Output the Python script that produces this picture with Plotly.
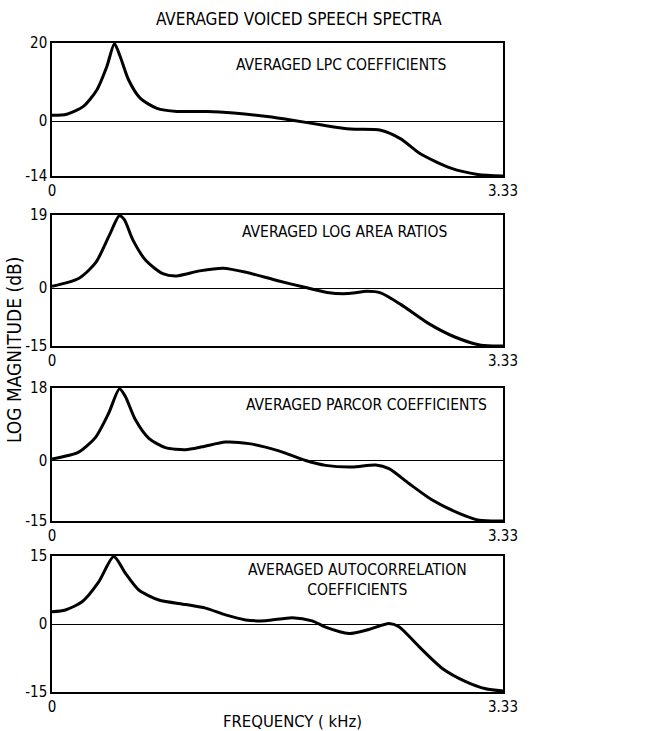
import plotly.graph_objects as go

# ---- data (frequency in kHz, log magnitude in dB) ----
lpc_f = [0.0, 0.109, 0.232, 0.331, 0.405, 0.461, 0.503, 0.565, 0.651, 0.775, 0.923, 1.145,
         1.342, 1.589, 1.786, 1.983, 2.205, 2.427, 2.575, 2.723, 2.945, 3.143, 3.33]
lpc_db = [1.5, 1.8, 3.8, 8.0, 14.0, 19.8, 16.6, 10.6, 5.9, 3.3, 2.5, 2.5,
          2.1, 1.2, 0.2, -0.9, -2.0, -2.3, -4.5, -8.4, -12.0, -13.6, -14.0]

lar_f = [0.0, 0.20, 0.324, 0.423, 0.497, 0.534, 0.596, 0.695, 0.818, 0.918, 1.09, 1.264,
         1.437, 1.66, 1.882, 2.031, 2.179, 2.327, 2.426, 2.575, 2.773, 2.97, 3.168, 3.33]
lar_db = [0.5, 2.6, 6.7, 13.7, 18.8, 17.8, 12.6, 7.1, 3.8, 3.2, 4.5, 5.2,
          4.1, 2.0, 0.1, -1.1, -1.4, -0.8, -1.2, -4.2, -9.0, -12.6, -14.8, -15.0]

par_f = [0.0, 0.197, 0.32, 0.419, 0.498, 0.54, 0.616, 0.715, 0.838, 0.986, 1.109, 1.281,
         1.454, 1.675, 1.873, 2.02, 2.217, 2.39, 2.488, 2.636, 2.808, 3.006, 3.153, 3.33]
par_db = [0.4, 2.1, 5.7, 11.8, 17.8, 16.0, 10.1, 5.5, 3.2, 2.7, 3.4, 4.6,
          4.2, 2.4, 0.0, -1.2, -1.6, -1.1, -2.0, -5.7, -9.8, -13.1, -14.8, -15.0]

aut_f = [0.0, 0.099, 0.222, 0.345, 0.456, 0.542, 0.641, 0.789, 0.986, 1.134, 1.281, 1.429,
         1.577, 1.774, 1.921, 2.02, 2.193, 2.34, 2.488, 2.562, 2.71, 2.882, 3.055, 3.203, 3.33]
aut_db = [2.7, 3.1, 4.9, 9.3, 14.9, 11.2, 7.5, 5.3, 4.3, 3.5, 2.0, 0.9,
          0.7, 1.4, 0.7, -0.7, -2.1, -1.2, 0.1, -0.6, -5.0, -9.8, -12.7, -14.3, -14.8]

panel_labels = ["AVERAGED LPC COEFFICIENTS", "AVERAGED LOG AREA RATIOS",
                "AVERAGED PARCOR COEFFICIENTS", "AVERAGED AUTOCORRELATION<br>COEFFICIENTS"]
y_ranges = [(-14, 20), (-15, 19), (-15, 18), (-15, 15)]
x_ticks = [0, 3.33]
x_ticktext = ["0", "3.33"]

title_text = "AVERAGED VOICED SPEECH SPECTRA"
x_title = "FREQUENCY ( kHz)"
y_title = "LOG MAGNITUDE (dB)"

# ---- layout geometry ----
W, H = 672, 731
FONT = "Liberation Sans Narrow, Arial Narrow, DejaVu Sans Condensed, sans-serif"
panel_px = [(43, 176), (215, 346), (388, 521), (556, 692)]  # top, bottom in px
x_dom = [52 / W, 503 / W]
label_pos = [(341, 65), (344, 232), (367, 405), (357, 580)]

series = [(lpc_f, lpc_db), (lar_f, lar_db), (par_f, par_db), (aut_f, aut_db)]

fig = go.Figure()
layout = dict(
    width=W, height=H, margin=dict(l=0, r=0, t=0, b=0, autoexpand=False),
    paper_bgcolor="white", plot_bgcolor="white", showlegend=False,
    font=dict(family=FONT, color="black", size=15),
)
annotations = []
for i, ((fx, fy), (top, bot), (lo, hi)) in enumerate(zip(series, panel_px, y_ranges)):
    n = "" if i == 0 else str(i + 1)
    fig.add_trace(go.Scatter(x=fx, y=fy, mode="lines", xaxis="x" + n, yaxis="y" + n,
                             line=dict(color="black", width=3, shape="spline", smoothing=0.7),
                             hoverinfo="skip", cliponaxis=False))
    layout["xaxis" + n] = dict(
        domain=x_dom, range=[0, 3.33], anchor="y" + n, automargin=False,
        showline=True, mirror=True, linecolor="black", linewidth=1.5,
        showgrid=False, zeroline=False, ticks="",
        tickvals=x_ticks, ticktext=x_ticktext, tickfont=dict(size=15, family=FONT),
    )
    layout["yaxis" + n] = dict(
        domain=[1 - bot / H, 1 - top / H], range=[lo, hi], anchor="x" + n, automargin=False,
        showline=True, mirror=True, linecolor="black", linewidth=1.5,
        showgrid=False, zeroline=True, zerolinecolor="black", zerolinewidth=1.2, ticks="",
        tickvals=[lo, 0, hi], ticktext=[str(lo), "0", str(hi)],
        tickfont=dict(size=15, family=FONT),
    )
    lx, ly = label_pos[i]
    annotations.append(dict(x=lx / W, y=1 - ly / H, xref="paper", yref="paper",
                            xanchor="center", yanchor="middle",
                            text=panel_labels[i], showarrow=False,
                            font=dict(size=15.5, family=FONT), align="center"))

annotations.append(dict(x=299 / W, y=1 - 19 / H, xref="paper", yref="paper", text=title_text,
                        xanchor="center", yanchor="middle",
                        showarrow=False, font=dict(size=17, family=FONT)))
annotations.append(dict(x=292 / W, y=1 - 721 / H, xref="paper", yref="paper", text=x_title,
                        xanchor="center", yanchor="middle",
                        showarrow=False, font=dict(size=16.5, family=FONT)))
annotations.append(dict(x=14 / W, y=1 - 350 / H, xref="paper", yref="paper", text=y_title,
                        xanchor="center", yanchor="middle",
                        showarrow=False, textangle=-90, font=dict(size=19, family=FONT)))
layout["annotations"] = annotations
fig.update_layout(**layout)
fig.write_html("out.html")
